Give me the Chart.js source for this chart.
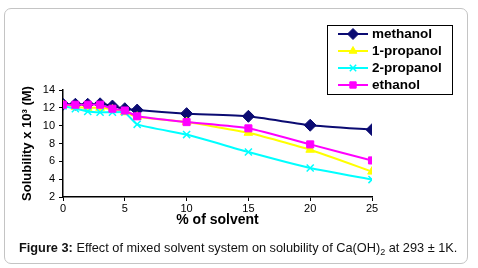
<!DOCTYPE html>
<html>
<head>
<meta charset="utf-8">
<script src="https://cdn.jsdelivr.net/npm/chart.js@4"></script>
<style>
  html, body { margin: 0; padding: 0; background: #fff; }
  #wrap { position: relative; width: 478px; height: 268px; overflow: hidden; }
  #frame {
    position: absolute; left: 4px; top: 8px; width: 464px; height: 256px;
    border: 1.5px solid #c4c4c4; border-radius: 7px; box-sizing: border-box;
  }
  #chart { position: absolute; left: 0; top: 0; }
  #caption {
    position: absolute; left: 19px; top: 240px; white-space: nowrap;
    font-family: "Liberation Sans", Arial, sans-serif; font-size: 12.75px; color: #111;
  }
  #caption b { font-weight: bold; }
</style>
</head>
<body>
<div id="wrap">
  <div id="frame"></div>
  <canvas id="chart" width="478" height="268"></canvas>
  <div id="caption"><b>Figure 3:</b> Effect of mixed solvent system on solubility of Ca(OH)<sub style="font-size:9px;vertical-align:-3px">2</sub> at 293 ± 1K.</div>
</div>
<script>
// % of solvent
const solvent = [0, 1, 2, 3, 4, 5, 6, 10, 15, 20, 25];

// Solubility x 10^3 (M)
const methanol   = [12.4, 12.4, 12.4, 12.45, 12.2, 11.9, 11.75, 11.35, 11.05, 10.05, 9.55];
const propanol1  = [12.3, 12.1, 12.0, 12.0, 11.8, 11.5, 11.0, 10.4, 9.2, 7.3, 4.85];
const propanol2  = [12.2, 11.9, 11.6, 11.5, 11.5, 11.5, 10.15, 9.0, 7.05, 5.25, 3.95];
const ethanol    = [12.35, 12.35, 12.35, 12.35, 11.9, 11.7, 11.05, 10.4, 9.7, 7.9, 6.1];

const seriesNames = ["methanol", "1-propanol", "2-propanol", "ethanol"];

function pts(vals) {
  return solvent.map(function(x, i) { return { x: x, y: vals[i] }; });
}

const FONT = "'Liberation Sans', Arial, sans-serif";

// legend drawn in a box, like the original
const boxLegend = {
  id: "boxLegend",
  afterDraw: function(chart) {
    const ctx = chart.ctx;
    ctx.save();
    ctx.strokeStyle = "#000";
    ctx.lineWidth = 1;
    ctx.strokeRect(327.5, 25.5, 125, 69);
    const rows = [34, 51, 68, 85];
    chart.data.datasets.forEach(function(ds, i) {
      const y = rows[i];
      ctx.strokeStyle = ds.borderColor;
      ctx.lineWidth = 2;
      ctx.beginPath();
      ctx.moveTo(338, y);
      ctx.lineTo(368, y);
      ctx.stroke();
      ctx.fillStyle = ds.pointBackgroundColor;
      ctx.strokeStyle = ds.pointBorderColor;
      ctx.lineWidth = ds.pointBorderWidth;
      Chart.helpers.drawPoint(ctx, { pointStyle: ds.pointStyle, radius: ds.pointRadius - 0.5, borderWidth: ds.pointBorderWidth }, 353, y);
      ctx.fillStyle = "#000";
      ctx.font = "bold 13.5px " + FONT;
      ctx.textBaseline = "middle";
      ctx.fillText(seriesNames[i], 372, y + 0.5);
    });
    ctx.restore();
  }
};

function series(label, vals, color, style, radius, order) {
  return {
    label: label,
    data: pts(vals),
    borderColor: color,
    backgroundColor: color,
    pointBackgroundColor: color,
    pointBorderColor: color,
    pointBorderWidth: style === "crossRot" ? 1.5 : 1,
    borderWidth: 2,
    pointStyle: style,
    pointRadius: radius,
    tension: 0.15,
    order: order
  };
}

new Chart(document.getElementById("chart"), {
  type: "line",
  data: {
    datasets: [
      series("methanol", methanol, "#0b0b72", "rectRot", 6, 4),
      series("1-propanol", propanol1, "#ffff00", "triangle", 5, 3),
      series("2-propanol", propanol2, "#00ffff", "crossRot", 5, 2),
      series("ethanol", ethanol, "#ff00ff", "rect", 5, 1)
    ]
  },
  options: {
    responsive: false,
    animation: false,
    layout: { padding: { left: 20, top: 90, right: 106, bottom: 39 } },
    plugins: { legend: { display: false }, tooltip: { enabled: false } },
    scales: {
      x: {
        type: "linear",
        min: 0, max: 25,
        afterFit: function(s) { s.height = 32; },
        ticks: { stepSize: 5, color: "#000", padding: 1, font: { family: FONT, size: 11 } },
        grid: { drawOnChartArea: false, color: "#000", tickLength: 4 },
        border: { color: "#000", width: 1.5 },
        title: { display: true, text: "% of solvent", color: "#000", padding: 0,
                 font: { family: FONT, size: 14, weight: "bold" } }
      },
      y: {
        min: 2, max: 14,
        afterFit: function(s) { s.width = 43; },
        ticks: { stepSize: 2, color: "#000", padding: 4, font: { family: FONT, size: 11 } },
        grid: { drawOnChartArea: false, color: "#000", tickLength: 4 },
        border: { color: "#000", width: 1.5 },
        title: { display: true, text: "Solubility x 10³ (M)", color: "#000", padding: 0,
                 font: { family: FONT, size: 13, weight: "bold" } }
      }
    }
  },
  plugins: [boxLegend]
});
</script>
</body>
</html>
